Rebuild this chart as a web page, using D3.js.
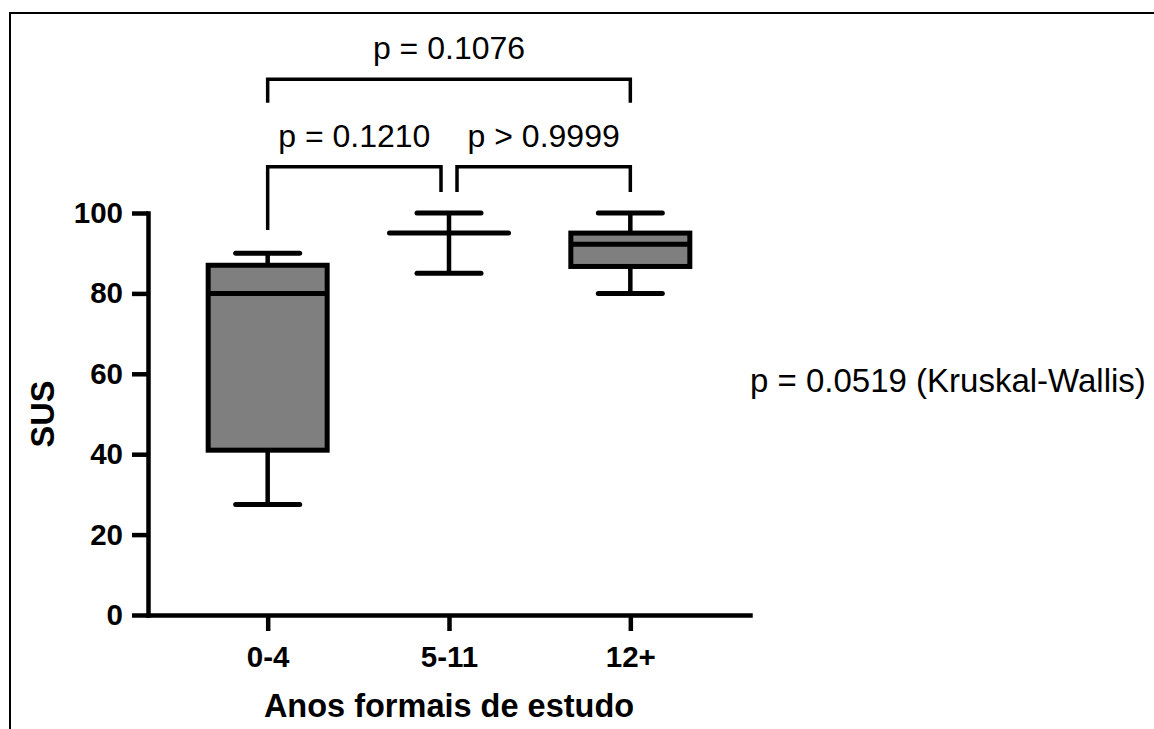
<!DOCTYPE html>
<html>
<head>
<meta charset="utf-8">
<script src="https://cdn.jsdelivr.net/npm/d3@7"></script>
<style>
  body { margin: 0; background: #fff; }
  svg { display: block; font-family: "Liberation Sans", Arial, sans-serif; }
</style>
</head>
<body>
<div id="chart"></div>
<script>
// Datos (SUS por años formales de estudio)
const categorias = ["0-4", "5-11", "12+"];
const bigoteInf = [27.5, 85, 80];
const q1 = [41, 95, 86.7];
const mediana = [80, 95, 92.2];
const q3 = [87, 95, 95];
const bigoteSup = [90, 100, 100];
const yTicks = [0, 20, 40, 60, 80, 100];

// Comparaciones (Dunn) y prueba global
const comparaciones = [
    { a: "0-4", b: "5-11", texto: "p = 0.1210", nivel: 0 },
    { a: "5-11", b: "12+", texto: "p > 0.9999", nivel: 0 },
    { a: "0-4", b: "12+", texto: "p = 0.1076", nivel: 1 }
];
const textoKruskal = "p = 0.0519 (Kruskal-Wallis)";

const width = 1154, height = 729;
const svg = d3.select("#chart").append("svg")
    .attr("width", width)
    .attr("height", height);

// marco
svg.append("path")
    .attr("d", `M10,${height} L10,13 L${width},13`)
    .attr("fill", "none")
    .attr("stroke", "#000")
    .attr("stroke-width", 2);

const x = d3.scalePoint()
    .domain(categorias)
    .range([148, 750])
    .padding(0.66);

const y = d3.scaleLinear()
    .domain([0, 100])
    .range([615, 213]);

const datos = categorias.map((c, i) => ({
    cat: c, lo: bigoteInf[i], q1: q1[i], med: mediana[i], q3: q3[i], hi: bigoteSup[i]
}));

const boxW = 119, capW = 64;

// ejes
const gy = svg.append("g")
    .attr("transform", "translate(148,0)")
    .call(d3.axisLeft(y).tickValues(yTicks).tickSize(16).tickSizeOuter(0).tickPadding(9));
const gx = svg.append("g")
    .attr("transform", "translate(0,615)")
    .call(d3.axisBottom(x).tickSize(16).tickSizeOuter(0).tickPadding(15));

[gy, gx].forEach(g => {
    g.select(".domain").attr("stroke-width", 4.5).attr("stroke-linecap", "square");
    g.selectAll(".tick line").attr("stroke-width", 4.5);
    g.selectAll(".tick text")
        .attr("font-size", 29.5)
        .attr("font-weight", "bold")
        .attr("fill", "#000")
        .attr("font-family", "Liberation Sans, Arial, sans-serif");
});

// cajas
const cajas = svg.append("g").selectAll("g")
    .data(datos)
    .enter()
    .append("g");

// bigotes (tallo)
cajas.append("line")
    .attr("x1", d => x(d.cat)).attr("x2", d => x(d.cat))
    .attr("y1", d => y(d.lo)).attr("y2", d => y(d.hi))
    .attr("stroke", "#000").attr("stroke-width", 4.5);

// tapas
cajas.selectAll(".cap")
    .data(d => [{ cat: d.cat, v: d.lo }, { cat: d.cat, v: d.hi }])
    .enter()
    .append("line")
    .attr("class", "cap")
    .attr("x1", d => x(d.cat) - capW / 2).attr("x2", d => x(d.cat) + capW / 2)
    .attr("y1", d => y(d.v)).attr("y2", d => y(d.v))
    .attr("stroke", "#000").attr("stroke-width", 5).attr("stroke-linecap", "round");

cajas.append("rect")
    .attr("x", d => x(d.cat) - boxW / 2)
    .attr("y", d => y(d.q3))
    .attr("width", boxW)
    .attr("height", d => y(d.q1) - y(d.q3))
    .attr("fill", "#7f7f7f")
    .attr("stroke", "#000")
    .attr("stroke-width", 5);

cajas.append("line")
    .attr("x1", d => x(d.cat) - boxW / 2).attr("x2", d => x(d.cat) + boxW / 2)
    .attr("y1", d => y(d.med)).attr("y2", d => y(d.med))
    .attr("stroke", "#000").attr("stroke-width", 5)
    .attr("stroke-linecap", d => d.q1 === d.q3 ? "round" : "butt");

// corchetes de comparación
const nivelY = [111.5, 133.3];       // altura de la barra horizontal (unidades SUS)
const piernaY = [105.2, 127.4];      // fin de las patas
const gapMedio = 8;
const corchetes = svg.append("g");
comparaciones.forEach(c => {
    let xa = x(c.a), xb = x(c.b);
    // separa los corchetes que comparten la categoría central
    if (c.nivel === 0 && c.a === "5-11") xa += gapMedio;
    if (c.nivel === 0 && c.b === "5-11") xb -= gapMedio;
    const yh = y(nivelY[c.nivel]);
    const yLegA = (c.nivel === 0 && c.a === "0-4") ? y(95.8) : y(piernaY[c.nivel]);
    const yLegB = y(piernaY[c.nivel]);
    corchetes.append("path")
        .attr("d", `M${xa},${yLegA} L${xa},${yh} L${xb},${yh} L${xb},${yLegB}`)
        .attr("fill", "none")
        .attr("stroke", "#000")
        .attr("stroke-width", 3.5);
    corchetes.append("text")
        .attr("x", (xa + xb) / 2)
        .attr("y", yh - 20)
        .attr("text-anchor", "middle")
        .attr("font-size", 32)
        .text(c.texto);
});

svg.append("text")
    .attr("x", 750)
    .attr("y", 392)
    .attr("font-size", 33)
    .text(textoKruskal);

// títulos de ejes
svg.append("text")
    .attr("x", (148 + 750) / 2)
    .attr("y", 717)
    .attr("text-anchor", "middle")
    .attr("font-size", 32.5)
    .attr("font-weight", "bold")
    .text("Anos formais de estudo");

svg.append("text")
    .attr("transform", `translate(54,${(y(0) + y(100)) / 2}) rotate(-90)`)
    .attr("text-anchor", "middle")
    .attr("font-size", 32.5)
    .attr("font-weight", "bold")
    .text("SUS");
</script>
</body>
</html>
